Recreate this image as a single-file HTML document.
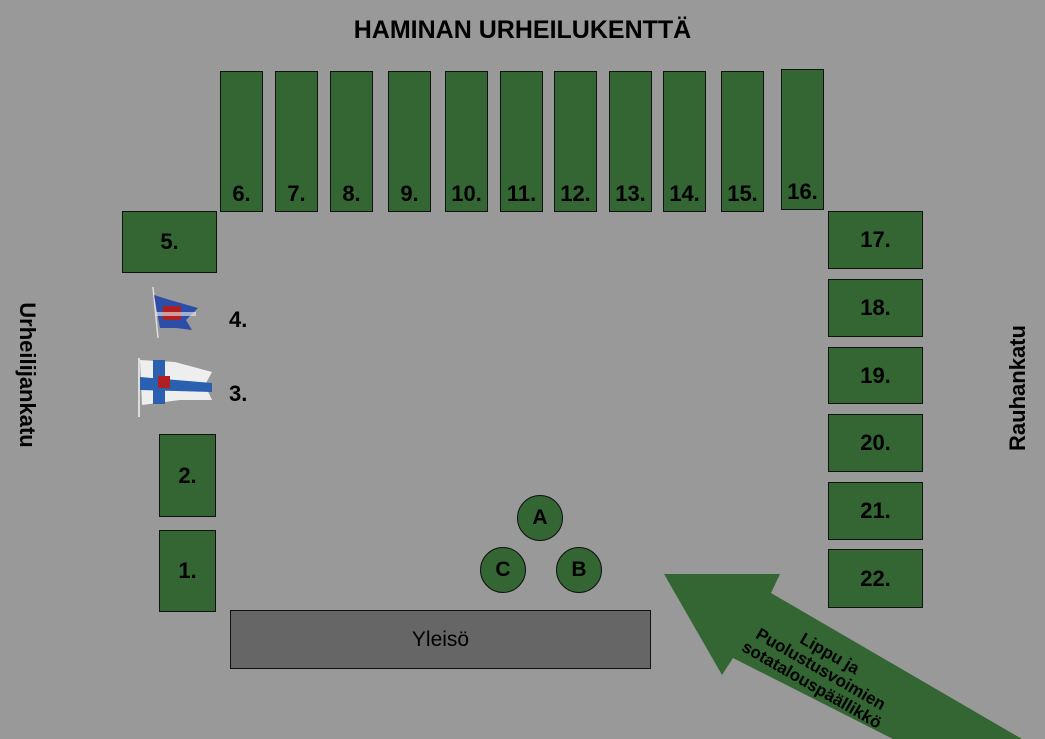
<!DOCTYPE html>
<html style="overflow:hidden"><head><meta charset="utf-8"><style>
html,body{margin:0;width:1045px;height:739px;overflow:hidden;}
body{background:#999999;position:relative;font-family:"Liberation Sans",Arial,sans-serif;font-weight:bold;}
.b{position:absolute;background:#336633;border:1px solid #111;box-sizing:border-box;color:#000;font-size:22px;display:flex;justify-content:center;}
.v{align-items:flex-end;padding-bottom:4px;}
.h{align-items:center;}
.c{position:absolute;width:46px;height:46px;border-radius:50%;background:#336633;border:1px solid #111;box-sizing:border-box;display:flex;align-items:center;justify-content:center;font-size:21px;}
.t{position:absolute;font-size:22px;}
</style></head><body>
<div class="t" style="left:0;width:1045px;top:16px;text-align:center;font-size:25px;">HAMINAN URHEILUKENTTÄ</div>
<div class="b v" style="left:220px;top:71px;width:43px;height:141px">6.</div>
<div class="b v" style="left:275px;top:71px;width:43px;height:141px">7.</div>
<div class="b v" style="left:330px;top:71px;width:43px;height:141px">8.</div>
<div class="b v" style="left:388px;top:71px;width:43px;height:141px">9.</div>
<div class="b v" style="left:445px;top:71px;width:43px;height:141px">10.</div>
<div class="b v" style="left:500px;top:71px;width:43px;height:141px">11.</div>
<div class="b v" style="left:554px;top:71px;width:43px;height:141px">12.</div>
<div class="b v" style="left:609px;top:71px;width:43px;height:141px">13.</div>
<div class="b v" style="left:663px;top:71px;width:43px;height:141px">14.</div>
<div class="b v" style="left:721px;top:71px;width:43px;height:141px">15.</div>
<div class="b v" style="left:781px;top:69px;width:43px;height:141px">16.</div>
<div class="b h" style="left:122px;top:211px;width:95px;height:62px">5.</div>
<div class="b h" style="left:159px;top:434px;width:57px;height:83px">2.</div>
<div class="b h" style="left:159px;top:530px;width:57px;height:82px">1.</div>
<div class="b h" style="left:828px;top:211px;width:95px;height:58px">17.</div>
<div class="b h" style="left:828px;top:279px;width:95px;height:58px">18.</div>
<div class="b h" style="left:828px;top:347px;width:95px;height:57px">19.</div>
<div class="b h" style="left:828px;top:414px;width:95px;height:58px">20.</div>
<div class="b h" style="left:828px;top:482px;width:95px;height:58px">21.</div>
<div class="b h" style="left:828px;top:549px;width:95px;height:59px">22.</div>
<div class="b h" style="left:230px;top:610px;width:421px;height:59px;background:#666;font-weight:normal;font-size:21px">Yleisö</div>
<div class="c" style="left:517px;top:495px">A</div>
<div class="c" style="left:480px;top:547px">C</div>
<div class="c" style="left:556px;top:547px">B</div>
<div class="t" style="left:229px;top:307px">4.</div>
<div class="t" style="left:229px;top:381px">3.</div>
<div class="t" style="left:27px;top:375px;width:200px;margin-left:-100px;margin-top:-13px;text-align:center;transform:rotate(90deg);white-space:nowrap">Urheilijankatu</div>
<div class="t" style="left:1018px;top:388px;width:200px;margin-left:-100px;margin-top:-13px;text-align:center;transform:rotate(-90deg);white-space:nowrap">Rauhankatu</div>
<svg width="1045" height="739" style="position:absolute;left:0;top:0">
<line x1="153" y1="287" x2="158" y2="338" stroke="#ddd" stroke-width="1.5"/>
<polygon points="154,295 170,300 198,308 186,320 192,330 176,328 160,328" fill="#2d4ea8"/>
<rect x="163" y="306" width="18" height="14" fill="#b02020"/>
<rect x="156" y="312" width="40" height="4" fill="#eee" opacity=".6"/>
<line x1="139" y1="358" x2="139" y2="417" stroke="#ddd" stroke-width="2"/>
<polygon points="140,360 175,362 212,372 205,385 212,400 180,400 142,405" fill="#eeeeee"/>
<rect x="153" y="360" width="12" height="44" fill="#2b5fb0"/>
<polygon points="140,377 212,383 212,392 140,390" fill="#2b5fb0"/>
<rect x="158" y="376" width="12" height="12" fill="#b02020"/>
<polygon points="664,574 780,574 771,593 1022,739 893,739 733,658 722,675" fill="#336633"/>
<g transform="translate(818,674) rotate(30)" font-size="17" font-weight="bold" text-anchor="middle" fill="#000" font-family="Liberation Sans, sans-serif">
<text x="0" y="-18">Lippu ja</text>
<text x="0" y="0">Puolustusvoimien</text>
<text x="0" y="18">sotatalouspäällikkö</text>
</g>
</svg>
</body></html>
